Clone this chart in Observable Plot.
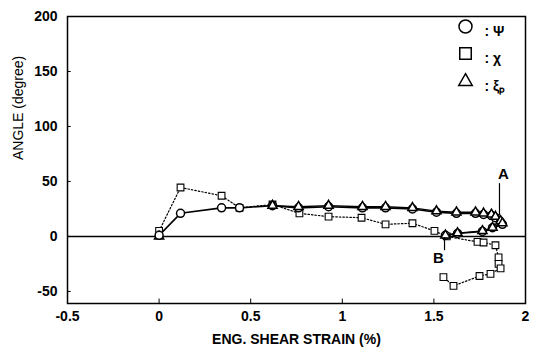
<!DOCTYPE html>
<html>
<head>
<meta charset="utf-8">
<script src="https://cdn.jsdelivr.net/npm/d3@7"></script>
<script src="https://cdn.jsdelivr.net/npm/@observablehq/plot@0.6"></script>
<style>
  html, body { margin: 0; padding: 0; background: #fff; }
  #chart { width: 534px; height: 352px; }
</style>
</head>
<body>
<div id="chart"></div>
<script>
// ---- data ----
const xTicks = [-0.5, 0, 0.5, 1, 1.5, 2];
const yTicks = [-50, 0, 50, 100, 150, 200];

// Psi (circles, solid line)
const psiX = [0, 0.117, 0.341, 0.439, 0.619, 0.761, 0.925, 1.11, 1.236, 1.383, 1.514, 1.623, 1.727, 1.771, 1.814, 1.836, 1.864, 1.874, 1.82, 1.765, 1.629, 1.563];
const psiY = [1, 21, 26, 26, 28, 26, 27, 26, 26, 25, 22, 21, 21, 20, 19, 17, 13, 11, 8, 4.5, 2.7, 1];

// xi_p (triangles, solid line)
const xiX = [0, 0.619, 0.761, 0.925, 1.11, 1.236, 1.383, 1.514, 1.623, 1.727, 1.771, 1.814, 1.836, 1.864, 1.874, 1.82, 1.765, 1.629, 1.563];
const xiY = [0, 28, 27, 28, 27, 27, 26, 23, 22, 22, 21, 20, 18, 14, 12, 8, 5, 3, 1];

// chi (squares, dotted line)
const chiX = [0, 0.117, 0.341, 0.439, 0.619, 0.766, 0.925, 1.105, 1.236, 1.383, 1.503, 1.57, 1.738, 1.771, 1.836, 1.853, 1.853, 1.864, 1.809, 1.749, 1.607, 1.552];
const chiY = [5, 44.5, 37, 26, 29, 21, 18, 17, 11, 12, 5, 0, -5, -5.5, -8, -19, -25, -29, -34, -36, -45, -37];

const legendSymbols = ["circle", "square", "triangle"];
const legendLabels = [": Ψ", ": χ", ": ξₚ"];

const annotations = [
  {label: "A", x: 1.88, y: 57, x1: 1.858, y1: 48, y2: 19},
  {label: "B", x: 1.525, y: -20, x1: 1.558, y1: -1, y2: -13}
];

// ---- build rows ----
const psi = psiX.map((x, i) => ({x, y: psiY[i]}));
const xi = xiX.map((x, i) => ({x, y: xiY[i]}));
const chi = chiX.map((x, i) => ({x, y: chiY[i]}));

const font = "'Liberation Sans', Arial, Helvetica, sans-serif";
const legendRowDy = [10, 37, 65];
const legendR = {circle: 6.5, square: 6.5, triangle: 5};

const legendMarks = legendSymbols.flatMap((s, i) => [
  Plot.dot([legendLabels[i]], {frameAnchor: "top-right", dx: -60, dy: legendRowDy[i], symbol: s, r: legendR[s], stroke: "#000", fill: "#fff", strokeWidth: 1.5}),
  Plot.text([legendLabels[i]], {frameAnchor: "top-right", dx: -41, dy: legendRowDy[i], text: d => d, textAnchor: "start", fontSize: 14, fontWeight: "bold"})
]);

const chart = Plot.plot({
  width: 534,
  height: 352,
  marginLeft: 67,
  marginRight: 9,
  marginTop: 16,
  marginBottom: 49,
  style: {fontFamily: font, fontSize: "14px", fontWeight: "bold", color: "#000", background: "#fff", overflow: "visible"},
  x: {domain: [-0.5, 2]},
  y: {domain: [-61, 200]},
  marks: [
    Plot.axisX({ticks: xTicks, tickSize: 0, tickPadding: 8, tickFormat: d => String(d), label: null, fontSize: 14}),
    Plot.axisY({ticks: yTicks, tickSize: 0, tickPadding: 10, tickFormat: d => String(d), label: null, fontSize: 14}),
    Plot.text(["ENG. SHEAR STRAIN (%)"], {frameAnchor: "bottom", dy: 40, fontSize: 14, fontWeight: "bold"}),
    Plot.text(["ANGLE (degree)"], {frameAnchor: "left", dx: -49, rotate: -90, fontSize: 14, fontWeight: "normal"}),
    // inward ticks
    Plot.ruleX(xTicks, {y1: -61, y2: -57, stroke: "#000"}),
    Plot.ruleY(yTicks, {x1: -0.5, x2: -0.48, stroke: "#000"}),
    Plot.frame({stroke: "#000", strokeWidth: 1.5}),
    Plot.ruleY([0], {stroke: "#000", strokeWidth: 1.5}),
    // chi
    Plot.line(chi, {x: "x", y: "y", stroke: "#000", strokeWidth: 1.2, strokeDasharray: "1.5,2"}),
    Plot.dot(chi, {x: "x", y: "y", symbol: "square", r: 3.8, stroke: "#000", fill: "#fff", strokeWidth: 1.1}),
    // psi & xi
    Plot.line(psi, {x: "x", y: "y", stroke: "#000", strokeWidth: 1.6}),
    Plot.line(xi.slice(1), {x: "x", y: "y", stroke: "#000", strokeWidth: 1.3}),
    Plot.dot(xi.slice(0, 1), {x: "x", y: "y", symbol: "triangle", r: 3.4, stroke: "#000", fill: "#fff", strokeWidth: 1.5}),
    Plot.dot(psi, {x: "x", y: "y", symbol: "circle", r: 4, stroke: "#000", fill: "#fff", strokeWidth: 1.5}),
    Plot.dot(xi.slice(1), {x: "x", y: "y", symbol: "triangle", r: 3.4, stroke: "#000", fill: "#fff", strokeWidth: 1.5}),
    // annotations A / B
    Plot.ruleX(annotations, {x: "x1", y1: "y1", y2: "y2", stroke: "#000", strokeWidth: 1.2}),
    Plot.text(annotations, {x: "x", y: "y", text: "label", fontSize: 15, fontWeight: "bold"}),
    // legend
    ...legendMarks
  ]
});

document.getElementById("chart").appendChild(chart);
</script>
</body>
</html>
